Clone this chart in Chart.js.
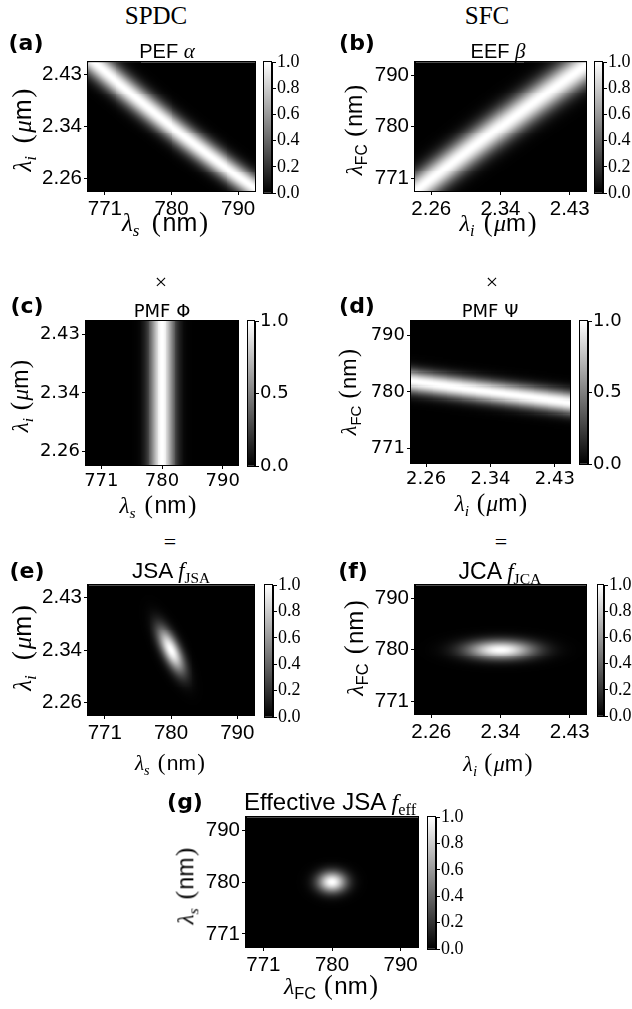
<!DOCTYPE html>
<html>
<head>
<meta charset="utf-8">
<script src="https://cdn.jsdelivr.net/npm/chart.js@4.4.0/dist/chart.umd.min.js"></script>
<style>
  body { margin: 0; background: #fff; }
  #fig { position: relative; width: 632px; height: 1009px; overflow: hidden; background: #fff; }
  #fig canvas { position: absolute; }
  .t { position: absolute; white-space: nowrap; color: #000; line-height: 1; font-family: "Liberation Sans", Arial, sans-serif; }
  .lbl { font-family: "DejaVu Sans", sans-serif; font-weight: bold; font-size: 22px; }
  .ser { font-family: "Liberation Serif", serif; }
  .mi { font-family: "Liberation Serif", serif; font-style: italic; }
  .sb { font-size: 0.68em; position: relative; top: 0.32em; }
  .par { font-family: "Liberation Serif", serif; font-size: 1.1em; }
</style>
</head>
<body>
<div id="fig"></div>
<script>
// axis ranges and ticks
var nmRange = [768.1, 791.9];
var umRange = [2.235, 2.445];
var nmTicks = [770.5, 780, 789.5];
var nmTickLabels = ['771', '780', '790'];
var umTicks = [2.255, 2.34, 2.425];
var umTickLabels = ['2.26', '2.34', '2.43'];
var cbTicksFine = [0, 0.2, 0.4, 0.6, 0.8, 1.0];
var cbTicksCoarse = [0, 0.5, 1.0];

// band / blob parameters
var pumpNm = 585;          // PEF: 1/ls + 1/li = 1/lp
var pefWidth = 4.4e-6;     // 1/nm
var escortNm = 1170;       // EEF: 1/lFC = 1/li + 1/le
var eefWidth = 5.6e-6;     // 1/nm
var phiBand = [780, 1.9];            // centre nm, width nm
var psiBand = [780, -17.1, 1.85];    // centre nm, slope nm/um, width nm
// blobs: centre x, centre y, width x, width y, correlation
var jsaBlob = [780, 2.34, 1.85, 0.036, -0.7];
var jcaBlob = [2.34, 780, 0.041, 1.75, 0];
var effBlob = [780, 780, 2.0, 1.9, 0];

var gridNx = 170, gridNy = 132;

function pef(ls, li) { var d = (1 / ls + 1 / (1000 * li) - 1 / pumpNm) / pefWidth; return Math.exp(-d * d); }
function eef(li, lfc) { var d = (1 / lfc - 1 / (1000 * li) - 1 / escortNm) / eefWidth; return Math.exp(-d * d); }
function phi(ls, li) { var d = (ls - phiBand[0]) / phiBand[1]; return Math.exp(-d * d); }
function psi(li, lfc) { var d = (lfc - psiBand[0] - psiBand[1] * (li - 2.34)) / psiBand[2]; return Math.exp(-d * d); }
function blob(b) {
  return function (x, y) {
    var zx = (x - b[0]) / b[2], zy = (y - b[1]) / b[3], r = b[4];
    return Math.exp(-(zx * zx - 2 * r * zx * zy + zy * zy) / (1 - r * r));
  };
}

var ranges = { nm: nmRange, um: umRange };
var tickSets = { nm: [nmTicks, nmTickLabels], um: [umTicks, umTickLabels] };

var panels = [
  { box: [88, 62, 255, 193], cb: [263, 272], x: 'nm', y: 'um', f: pef, fine: true },
  { box: [415, 62, 586, 193], cb: [594, 603], x: 'um', y: 'nm', f: eef, fine: true },
  { box: [86, 321, 238, 466], cb: [247, 255], x: 'nm', y: 'um', f: phi, fine: false },
  { box: [411, 321, 570, 464], cb: [579, 588], x: 'um', y: 'nm', f: psi, fine: false },
  { box: [88, 585, 254, 717], cb: [264, 273], x: 'nm', y: 'um', f: blob(jsaBlob), fine: true },
  { box: [415, 585, 586, 716], cb: [597, 604], x: 'um', y: 'nm', f: blob(jcaBlob), fine: true },
  { box: [246, 817, 418, 949], cb: [427, 436], x: 'nm', y: 'nm', f: blob(effBlob), fine: true }
];

var fig = document.getElementById('fig');
Chart.defaults.color = '#000';

var libFont = { family: '"Liberation Sans", Arial, sans-serif', size: 20.5 };
var dvFont = { family: '"DejaVu Sans", sans-serif', size: 18 };
var serFont = { family: '"Liberation Serif", serif', size: 18 };

function buildCells(p) {
  var xr = ranges[p.x], yr = ranges[p.y];
  var dx = (xr[1] - xr[0]) / gridNx, dy = (yr[1] - yr[0]) / gridNy;
  var cells = [];
  for (var i = 0; i < gridNx; i++) {
    for (var j = 0; j < gridNy; j++) {
      var x = xr[0] + (i + 0.5) * dx, y = yr[0] + (j + 0.5) * dy;
      var v = p.f(x, y);
      if (v > 0.002) cells.push({ x: x, y: y, v: v });
    }
  }
  return { cells: cells, dx: dx, dy: dy };
}

var heatPlugin = {
  id: 'heat',
  beforeDatasetsDraw: function (chart) {
    var ctx = chart.ctx, a = chart.chartArea, xs = chart.scales.x, ys = chart.scales.y;
    ctx.save();
    ctx.fillStyle = '#000';
    ctx.fillRect(a.left, a.top, a.width, a.height);
    ctx.beginPath();
    ctx.rect(a.left, a.top, a.width, a.height);
    ctx.clip();
    chart.data.datasets.forEach(function (ds) {
      var hx = ds.cellW / 2, hy = ds.cellH / 2;
      ds.data.forEach(function (c) {
        var x0 = Math.round(xs.getPixelForValue(c.x - hx)), x1 = Math.round(xs.getPixelForValue(c.x + hx));
        var y0 = Math.round(ys.getPixelForValue(c.y + hy)), y1 = Math.round(ys.getPixelForValue(c.y - hy));
        if (x1 <= x0 || y1 <= y0) return;
        var g = Math.round(255 * c.v);
        ctx.fillStyle = 'rgb(' + g + ',' + g + ',' + g + ')';
        ctx.fillRect(x0, y0, x1 - x0, y1 - y0);
      });
    });
    ctx.restore();
  },
  afterDraw: function (chart) {
    var ctx = chart.ctx, a = chart.chartArea;
    ctx.save();
    ctx.strokeStyle = '#000';
    ctx.lineWidth = 1;
    ctx.strokeRect(Math.round(a.left) - 0.5, Math.round(a.top) - 0.5, Math.round(a.width) + 1, Math.round(a.height) + 1);
    ctx.restore();
  }
};

function axisOpts(kind, isX, font) {
  var r = ranges[kind], ts = tickSets[kind];
  return {
    type: 'linear', min: r[0], max: r[1],
    afterBuildTicks: function (s) { s.ticks = ts[0].map(function (v) { return { value: v }; }); },
    afterFit: function (s) { if (isX) s.height = 34; else s.width = 62; },
    ticks: { callback: function (v, i) { return ts[1][i]; }, font: font, color: '#000', padding: 2, maxRotation: 0, autoSkip: false },
    grid: { drawOnChartArea: false, tickLength: 4, color: '#000' },
    border: { display: true, color: '#000' }
  };
}

function place(cv, chart, left, top) {
  var a = chart.chartArea;
  cv.style.left = (left - a.left) + 'px';
  cv.style.top = (top - a.top) + 'px';
}

function makeHeat(p) {
  var l = p.box[0], t = p.box[1], r = p.box[2], b = p.box[3];
  var yW = 62, xH = 34, padT = 12, padR = 24;
  var cv = document.createElement('canvas');
  cv.width = yW + (r - l) + padR;
  cv.height = padT + (b - t) + xH;
  cv.style.left = (l - yW) + 'px';
  cv.style.top = (t - padT) + 'px';
  fig.appendChild(cv);
  var g = buildCells(p);
  var font = p.fine ? libFont : dvFont;
  var chart = new Chart(cv, {
    type: 'scatter',
    data: { datasets: [{ data: g.cells, cellW: g.dx, cellH: g.dy, pointRadius: 0, pointHoverRadius: 0 }] },
    options: {
      responsive: false, animation: false, events: [],
      layout: { padding: { top: padT, right: padR, left: 0, bottom: 0 } },
      plugins: { legend: { display: false }, tooltip: { enabled: false } },
      scales: { x: axisOpts(p.x, true, font), y: axisOpts(p.y, false, font) }
    },
    plugins: [heatPlugin]
  });
  place(cv, chart, l, t);
}

var framePlugin = {
  id: 'frame',
  afterDraw: function (chart) {
    var ctx = chart.ctx, a = chart.chartArea;
    ctx.save();
    ctx.strokeStyle = '#000';
    ctx.lineWidth = 1;
    ctx.strokeRect(Math.round(a.left) + 0.5, Math.round(a.top) - 0.5, Math.round(a.width) - 1, Math.round(a.height) + 1);
    ctx.restore();
  }
};

function makeColorbar(p) {
  var l = p.cb[0], r = p.cb[1], t = p.box[1], b = p.box[3];
  var axW = 45, pad = 12;
  var cv = document.createElement('canvas');
  cv.width = (r - l) + axW;
  cv.height = pad * 2 + (b - t);
  cv.style.left = l + 'px';
  cv.style.top = (t - pad) + 'px';
  fig.appendChild(cv);
  var ticks = p.fine ? cbTicksFine : cbTicksCoarse;
  var font = p.fine ? serFont : dvFont;
  var chart = new Chart(cv, {
    type: 'bar',
    data: {
      labels: [''],
      datasets: [{
        data: [1], borderWidth: 0, barPercentage: 1, categoryPercentage: 1,
        backgroundColor: function (c) {
          var a = c.chart.chartArea;
          if (!a) return '#888';
          var gr = c.chart.ctx.createLinearGradient(0, a.bottom, 0, a.top);
          gr.addColorStop(0, '#000');
          gr.addColorStop(1, '#fff');
          return gr;
        }
      }]
    },
    options: {
      responsive: false, animation: false, events: [],
      layout: { padding: { top: pad, bottom: pad, left: 0, right: 0 } },
      plugins: { legend: { display: false }, tooltip: { enabled: false } },
      scales: {
        x: { display: false },
        y: {
          position: 'right', min: 0, max: 1,
          afterBuildTicks: function (s) { s.ticks = ticks.map(function (v) { return { value: v }; }); },
          afterFit: function (s) { s.width = axW; },
          ticks: { callback: function (v) { return v.toFixed(1); }, font: font, color: '#000', padding: 1 },
          grid: { drawOnChartArea: false, tickLength: 4, color: '#000' },
          border: { display: true, color: '#000' }
        }
      }
    },
    plugins: [framePlugin]
  });
  place(cv, chart, l, t);
}

panels.forEach(function (p) { makeHeat(p); makeColorbar(p); });

// text
function put(html, cx, cy, style, rot, cls) {
  var d = document.createElement('div');
  d.className = 't' + (cls ? ' ' + cls : '');
  d.innerHTML = html;
  d.style.cssText = 'left:' + cx + 'px;top:' + cy + 'px;' + (style || '') +
    ';transform:translate(-50%,-50%)' + (rot ? ' rotate(-90deg)' : '');
  fig.appendChild(d);
}
var lam = '<span class="mi">λ</span>';
function subI(s) { return '<span class="sb mi">' + s + '</span>'; }
function subR(s) { return '<span class="sb">' + s + '</span>'; }
function subS(s) { return '<span class="sb ser">' + s + '</span>'; }
function unit(u, gap) {
  return '<span class="par" style="margin-left:' + gap + 'em;margin-right:0.06em">(</span>' + u +
    '<span class="par" style="margin-left:0.06em">)</span>';
}
function lsLabel(gap) { return lam + subI('s') + unit('nm', gap); }
function liLabel(gap) { return lam + subI('i') + unit('<span class="mi">μ</span>m', gap); }
function lfcLabel(gap) { return lam + subR('FC') + unit('nm', gap); }

var serif25 = 'font-family:"Liberation Serif",serif;font-size:25px';
put('SPDC', 156, 15, serif25);
put('SFC', 487, 15, serif25);

put('(a)', 26, 43, '', false, 'lbl');
put('(b)', 357, 43, '', false, 'lbl');
put('(c)', 27, 306, '', false, 'lbl');
put('(d)', 357, 306, '', false, 'lbl');
put('(e)', 27, 571, '', false, 'lbl');
put('(f)', 353, 571, '', false, 'lbl');
put('(g)', 185, 802, '', false, 'lbl');

put('PEF <span class="mi" style="font-size:1.05em">α</span>', 167, 51, 'font-size:20px');
put('EEF <span class="mi" style="font-size:1.05em">β</span>', 498, 51, 'font-size:20px');
put('PMF Φ', 162, 311, 'font-family:"DejaVu Sans",sans-serif;font-size:18px');
put('PMF Ψ', 490, 311, 'font-family:"DejaVu Sans",sans-serif;font-size:18px');
put('JSA <span class="mi">f</span>' + subS('JSA'), 171, 571, 'font-size:22.5px');
put('JCA <span class="mi">f</span>' + subS('JCA'), 500, 571, 'font-size:23px');
put('Effective JSA <span class="mi">f</span>' + subS('eff'), 330, 802, 'font-size:24px');

var serif22 = 'font-family:"Liberation Serif",serif;font-size:22px';
put('×', 161, 282, serif22);
put('×', 492, 282, serif22);
put('=', 170, 542, serif22);
put('=', 501, 542, serif22);

put(lsLabel(0.45), 165, 222, 'font-size:25px');
put(liLabel(0.35), 498, 222, 'font-size:24px');
put(lsLabel(0.35), 158, 505, 'font-size:23px');
put(liLabel(0.3), 491, 503, 'font-size:23px');
put(lsLabel(0.35), 170, 763, 'font-size:21px');
put(liLabel(0.3), 498, 763, 'font-size:22px');
put(lfcLabel(0.3), 331, 985, 'font-size:24px');

put(liLabel(0.45), 22, 130, 'font-size:25px', true);
put(lfcLabel(0.3), 354, 130, 'font-size:23px', true);
put(liLabel(0.3), 20, 396, 'font-size:23px', true);
put(lfcLabel(0.3), 348, 392, 'font-size:22px', true);
put(liLabel(0.55), 22, 648, 'font-size:25px', true);
put(lfcLabel(0.35), 354, 648, 'font-size:24px', true);
put(lsLabel(0.35), 185, 886, 'font-size:23px', true);
</script>
</body>
</html>
